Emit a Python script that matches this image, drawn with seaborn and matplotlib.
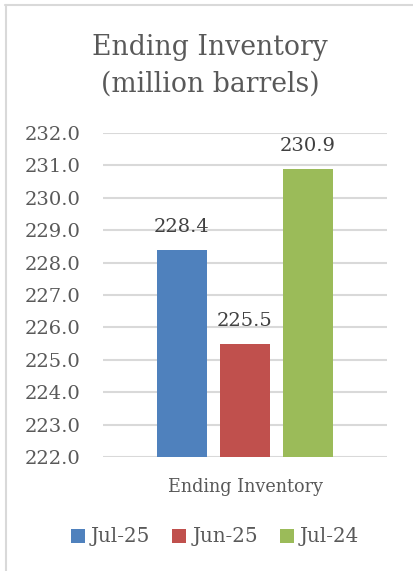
import matplotlib
matplotlib.use("Agg")
import matplotlib.pyplot as plt
from matplotlib.patches import Patch
from matplotlib.lines import Line2D
import seaborn as sns
import pandas as pd

# Ending inventory, million barrels
category = ["Ending Inventory"]
periods = ["Jul-25", "Jun-25", "Jul-24"]
values = [228.4, 225.5, 230.9]
colors = ["#4f81bd", "#c0504d", "#9bbb59"]
y_ticks = [222.0, 223.0, 224.0, 225.0, 226.0, 227.0, 228.0, 229.0, 230.0, 231.0, 232.0]

df = pd.DataFrame({"category": category * len(periods), "period": periods, "value": values})

sns.set_theme(style="white")
plt.rcParams["font.family"] = ["DejaVu Serif"]

W, H = 413, 571
fig = plt.figure(figsize=(W / 100, H / 100), dpi=100)
fig.patch.set_facecolor("white")

left, right, top, bottom = 103, 387, 133, 457
ax = fig.add_axes([left / W, 1 - bottom / H, (right - left) / W, (bottom - top) / H])

sns.barplot(data=df, x="category", y="value", hue="period", hue_order=periods,
            palette=colors, width=0.6655, gap=0.206, ax=ax, legend=False,
            saturation=1, edgecolor="none", linewidth=0)

ax.set_ylim(y_ticks[0], y_ticks[-1])
ax.set_xlim(-0.5, 0.5)
ax.set_yticks(y_ticks)
ax.set_yticklabels([f"{t:.1f}" for t in y_ticks], fontsize=14, color="#595959")
ax.tick_params(axis="y", length=0, pad=16.5)
ax.tick_params(axis="x", length=0, pad=15)
ax.set_xticks([0])
ax.set_xticklabels(category, fontsize=12.7, color="#595959")
ax.set_xlabel("")
ax.set_ylabel("")
ax.yaxis.grid(True, color="#d9d9d9", linewidth=1.5)
ax.set_axisbelow(True)
for s in ax.spines.values():
    s.set_visible(False)

for cont in ax.containers:
    ax.bar_label(cont, fmt="%.1f", padding=9.5, fontsize=14, color="#404040")

fig.text(210 / W, 1 - 66 / H, "Ending Inventory\n(million barrels)", ha="center", va="center",
         fontsize=19.2, color="#595959", linespacing=1.45)

handles = [Patch(facecolor=c, edgecolor="none") for c in colors]
fig.legend(handles, periods, loc="center", bbox_to_anchor=(215 / W, 1 - 537 / H),
           ncol=3, frameon=False, fontsize=14.3, labelcolor="#595959",
           handlelength=0.7, handleheight=0.7, handletextpad=0.3, columnspacing=1.1)

# chart frame edges
fig.add_artist(Line2D([5 / W, 1], [1 - 5 / H, 1 - 5 / H], color="#d9d9d9", linewidth=1.5,
                      transform=fig.transFigure))
fig.add_artist(Line2D([6 / W, 6 / W], [0, 1 - 5 / H], color="#d9d9d9", linewidth=1.5,
                      transform=fig.transFigure))

fig.savefig("out.png", dpi=100)
